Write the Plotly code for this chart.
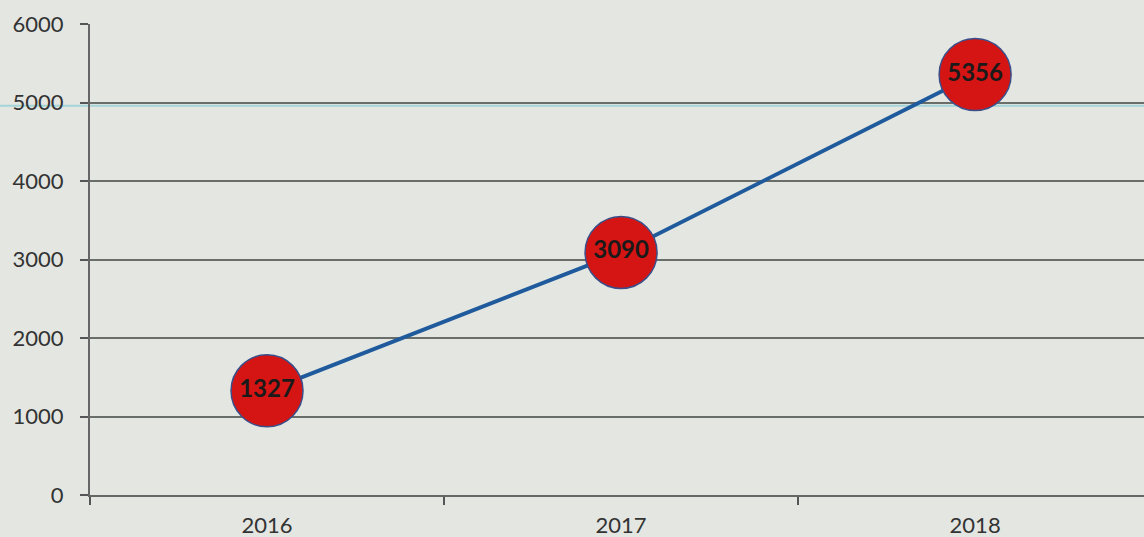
import plotly.graph_objects as go

years = ["2016", "2017", "2018"]
values = [1327, 3090, 5356]
y_ticks = [0, 1000, 2000, 3000, 4000, 5000, 6000]

BG = "#e4e6e2"

fig = go.Figure()
fig.add_trace(go.Scatter(
    x=years, y=values, mode="lines+markers+text",
    line=dict(color="#1f5b9c", width=4),
    marker=dict(size=72, color="#d51414", line=dict(color="#3a4f8a", width=1.5)),
    text=[str(v) for v in values], textposition="middle center",
    textfont=dict(family="Lato", size=24, color="#1a1a1a", weight="bold"),
    cliponaxis=False, showlegend=False, hoverinfo="skip",
))

fig.add_shape(type="line", xref="paper", yref="y", x0=-0.1, x1=1, y0=4960, y1=4960,
              line=dict(color="#a3d4d8", width=2), layer="below")

fig.update_layout(
    width=1144, height=537,
    margin=dict(l=90, r=0, t=24, b=42),
    paper_bgcolor=BG, plot_bgcolor=BG,
    font=dict(family="Lato", color="#333333"),
    xaxis=dict(
        type="category", range=[-0.5, 2.477], tickson="boundaries",
        ticks="outside", ticklen=8, tickcolor="#555555", tickwidth=1.5,
        showgrid=False, showline=True, linecolor="#666666", linewidth=2,
        tickfont=dict(size=22, color="#333333"), zeroline=False,
        ticklabelstandoff=10,
    ),
    yaxis=dict(
        range=[0, 6000], tickvals=y_ticks, ticks="outside", ticklen=8,
        tickcolor="#555555", tickwidth=1.5,
        showgrid=True, gridcolor="#6a6e6a", gridwidth=2,
        showline=True, linecolor="#666666", linewidth=2,
        tickfont=dict(size=22, color="#333333"), zeroline=False,
        ticklabelstandoff=12,
    ),
)

fig.write_html(
    "out.html",
    config={"displayModeBar": False},
    post_script="document.body.style.margin='0';document.body.style.background='" + BG + "';",
)
